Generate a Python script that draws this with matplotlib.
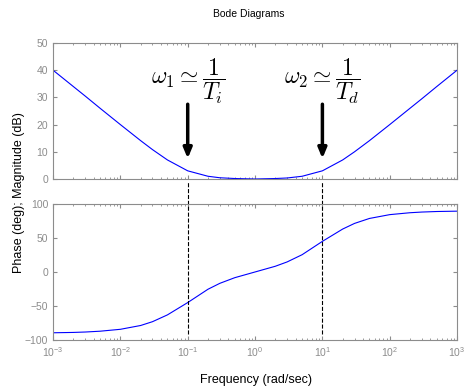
import matplotlib
matplotlib.use("Agg")
import matplotlib.pyplot as plt
import numpy as np

plt.rcParams['font.family'] = ['Liberation Sans', 'DejaVu Sans']
plt.rcParams['mathtext.fontset'] = 'cm'

# values
freq = [1e-3, 2e-3, 3e-3, 5e-3, 1e-2, 2e-2, 3e-2, 5e-2, 1e-1, 2e-1, 3e-1, 5e-1, 1,
        2, 3, 5, 10, 20, 30, 50, 100, 200, 300, 500, 1000]
mag_db = [40, 34, 30.5, 26, 20, 14.1, 10.8, 7.0, 3.0, 1.0, 0.45, 0.17, 0,
          0.17, 0.37, 1.0, 3.0, 7.0, 10.0, 14.1, 20, 26, 29.5, 34, 40]
phase_deg = [-89.4, -88.9, -88.3, -87.1, -84.3, -78.7, -73.1, -63.1, -45, -25.4, -16.7, -8.4, 0,
             8.4, 14.8, 25.4, 45, 63.1, 71.4, 78.7, 84.3, 87.1, 88.1, 88.9, 89.4]
corners = [0.1, 10]
labels = [r'$\omega_1 \simeq \dfrac{1}{T_i}$', r'$\omega_2 \simeq \dfrac{1}{T_d}$']

gray = '#8c8c8c'
fig = plt.figure(figsize=(4.65, 3.92), dpi=100)
ax1 = fig.add_axes([0.114, 0.5434, 0.869, 0.347])
ax2 = fig.add_axes([0.114, 0.1327, 0.869, 0.347])

ax1.semilogx(freq, mag_db, color='blue', lw=0.8)
ax2.semilogx(freq, phase_deg, color='blue', lw=0.8)

ax1.set_ylim(0, 50)
ax1.set_yticks([0, 10, 20, 30, 40, 50])
ax2.set_ylim(-100, 100)
ax2.set_yticks([-100, -50, 0, 50, 100])
for ax in (ax1, ax2):
    ax.set_xlim(1e-3, 1e3)
    ax.set_xticks([1e-3, 1e-2, 1e-1, 1, 10, 100, 1000])
    ax.tick_params(which='both', direction='in', top=True, right=True,
                   colors=gray, labelsize=7.5, length=3)
    ax.tick_params(which='minor', length=1.5)
    for s in ax.spines.values():
        s.set_color(gray)
ax1.tick_params(labelbottom=False)

for c, lab in zip(corners, labels):
    ax1.text(c, 36, lab, ha='center', va='center', fontsize=17)
    ax1.annotate('', xy=(c, 6.5), xytext=(c, 28.5),
                 arrowprops=dict(arrowstyle='-|>,head_width=0.25,head_length=0.6',
                                 color='black', lw=2.5))
    ax2.plot([c, c], [-91, 134], ls='--', color='black', lw=0.8, clip_on=False)

fig.text(0.535, 0.965, 'Bode Diagrams', ha='center', va='center', fontsize=7.5)
fig.text(0.55, 0.03, 'Frequency (rad/sec)', ha='center', va='center', fontsize=9)
fig.text(0.04, 0.51, 'Phase (deg); Magnitude (dB)', ha='center', va='center',
         rotation=90, fontsize=9)

fig.savefig('out.png', dpi=100)
